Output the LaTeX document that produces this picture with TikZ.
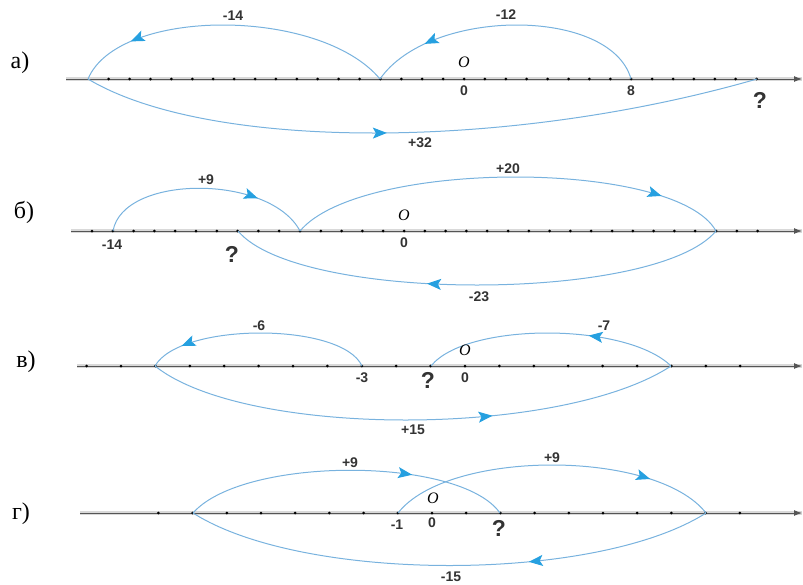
\documentclass[tikz,border=0pt]{standalone}
\usepackage{fontspec}
\setmainfont{Liberation Serif}
\setsansfont{Liberation Sans}
\usetikzlibrary{positioning,arrows.meta,decorations.markings}
\definecolor{ArcBlue}{RGB}{120,178,222}
\definecolor{TipBlue}{RGB}{38,160,224}
\definecolor{AxisGray}{RGB}{85,85,85}

\begin{document}
\begin{tikzpicture}[x=1pt, y=-1pt,
    axis/.style={draw=AxisGray, line width=1pt, -{Latex[length=8pt,width=6pt]},
                 preaction={draw=black!15, line width=3.5pt, arrows=-}},
    tick/.style={fill=black},
    jump/.style={draw=ArcBlue, line width=1pt, postaction={decorate},
                 decoration={markings, mark=at position #1 with {\arrow{Stealth[length=14pt,width=11pt,inset=3pt,color=TipBlue]}}}},
    num/.style={font=\sffamily\bfseries\fontsize{14}{14}\selectfont, text=black!80, inner sep=0pt},
    ask/.style={font=\sffamily\bfseries\fontsize{23}{23}\selectfont, text=black!80, inner sep=0pt},
    origin/.style={font=\itshape\fontsize{16}{16}\selectfont, inner sep=0pt},
    part/.style={font=\fontsize{24}{24}\selectfont, inner sep=0pt}
]
    \useasboundingbox (0,0) rectangle (803,584);

    % а)
    \node[part] (pa) at (20,63) {а)};
    \coordinate (a-start) at (66,79);
    \coordinate (a-end) at (802,79);
    \draw[axis] (a-start) -- (a-end);
    \foreach \k in {-17,...,14} \fill[tick] (\k*20.9+464,79) circle (1.5pt);
    \coordinate (a0) at (464,79);
    \coordinate (a8) at (631,79);
    \coordinate (am4) at (380,79);
    \coordinate (am18) at (88,79);
    \coordinate (a14) at (757,79);
    \draw[jump=0.8] (a8) .. controls +(-20,-72) and +(50,-72) .. (am4);
    \draw[jump=0.82] (am4) .. controls +(-60,-72) and +(30,-72) .. (am18);
    \draw[jump=0.45] (am18) .. controls +(120,72) and +(-250,72) .. (a14);
    \node[num] (a-lm14) at (233,16) {-14};
    \node[num] (a-lm12) at (506,15) {-12};
    \node[num] (a-lp32) at (420,143) {+32};
    \node[num] (a-l0) at (464,91) {0};
    \node[num] (a-l8) at (631,91) {8};
    \node[origin] (a-o) at (464,62) {O};
    \node[ask] (a-q) at (760,100) {?};

    % б)
    \node[part] (pb) at (24,212) {б)};
    \coordinate (b-start) at (71,231);
    \coordinate (b-end) at (802,231);
    \draw[axis] (b-start) -- (b-end);
    \foreach \k in {-15,...,17} \fill[tick] (\k*20.8+404,231) circle (1.5pt);
    \coordinate (b0) at (404,231);
    \coordinate (bm14) at (113,231);
    \coordinate (bm5) at (300,231);
    \coordinate (b15) at (716,231);
    \coordinate (bm8) at (238,231);
    \draw[jump=0.75] (bm14) .. controls +(10,-57) and +(-30,-57) .. (bm5);
    \draw[jump=0.85] (bm5) .. controls +(60,-72) and +(-40,-72) .. (b15);
    \draw[jump=0.6] (b15) .. controls +(-60,72) and +(60,72) .. (bm8);
    \node[num] (b-lp9) at (206,180) {+9};
    \node[num] (b-lp20) at (508,169) {+20};
    \node[num] (b-lm23) at (479,297) {-23};
    \node[num] (b-lm14) at (112,245) {-14};
    \node[num] (b-l0) at (404,243) {0};
    \node[origin] (b-o) at (404,215) {O};
    \node[ask] (b-q) at (232,254) {?};

    % в)
    \node[part] (pc) at (26,362) {в)};
    \coordinate (c-start) at (77,366);
    \coordinate (c-end) at (802,366);
    \draw[axis] (c-start) -- (c-end);
    \foreach \k in {-11,...,8} \fill[tick] (\k*34.4+465,366) circle (1.5pt);
    \coordinate (c0) at (465,366);
    \coordinate (cm3) at (362,366);
    \coordinate (cm9) at (155,366);
    \coordinate (c6) at (671,366);
    \coordinate (cm1) at (431,366);
    \draw[jump=0.85] (cm3) .. controls +(-20,-44) and +(25,-44) .. (cm9);
    \draw[jump=0.35] (c6) .. controls +(-45,-44) and +(35,-44) .. (cm1);
    \draw[jump=0.65] (cm9) .. controls +(90,72) and +(-110,72) .. (c6);
    \node[num] (c-lm6) at (259,326) {-6};
    \node[num] (c-lm7) at (604,326) {-7};
    \node[num] (c-lp15) at (413,430) {+15};
    \node[num] (c-lm3) at (362,378) {-3};
    \node[num] (c-l0) at (465,378) {0};
    \node[origin] (c-o) at (465,350) {O};
    \node[ask] (c-q) at (428,380) {?};

    % г)
    \node[part] (pd) at (21,514) {г)};
    \coordinate (d-start) at (80,513);
    \coordinate (d-end) at (802,513);
    \draw[axis] (d-start) -- (d-end);
    \foreach \k in {-8,...,9} \fill[tick] (\k*34.2+432,513) circle (1.5pt);
    \coordinate (d0) at (432,513);
    \coordinate (dm1) at (398,513);
    \coordinate (d8) at (706,513);
    \coordinate (dm7) at (193,513);
    \coordinate (d2) at (500,513);
    \draw[jump=0.7] (dm7) .. controls +(50,-57) and +(-40,-57) .. (d2);
    \draw[jump=0.8] (dm1) .. controls +(50,-64) and +(-50,-64) .. (d8);
    \draw[jump=0.35] (d8) .. controls +(-110,70) and +(110,70) .. (dm7);
    \node[num] (d-lp9a) at (350,463) {+9};
    \node[num] (d-lp9b) at (552,458) {+9};
    \node[num] (d-lm15) at (451,577) {-15};
    \node[num] (d-lm1) at (397,525) {-1};
    \node[num] (d-l0) at (432,523) {0};
    \node[origin] (d-o) at (433,498) {O};
    \node[ask] (d-q) at (499,528) {?};
\end{tikzpicture}
\end{document}
